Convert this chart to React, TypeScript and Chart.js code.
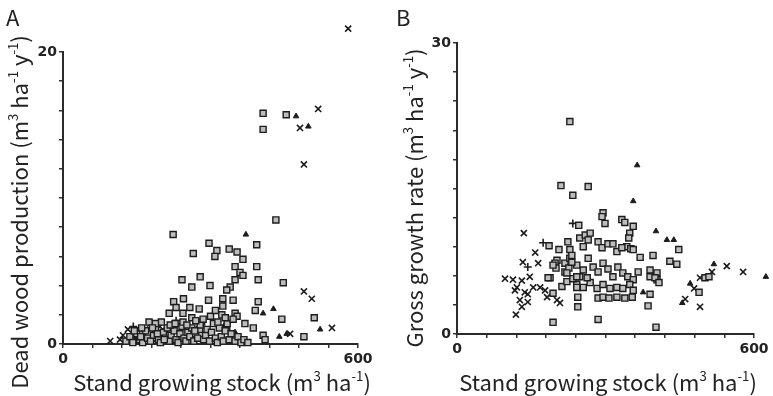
import React, { useEffect, useRef } from 'react';
import { Chart, registerables } from 'chart.js';

Chart.register(...registerables);

type P = [number, number];

// ---------- Panel A : Dead wood production ----------
const aSquares: P[] = [
  [407, 15.8], [407, 14.7], [454, 15.7],
  [433, 8.5], [224, 7.5], [394, 6.8], [297, 6.9], [265, 6.2], [313, 6.4], [338, 6.5], [354, 6.3],
  [309, 6.0], [366, 5.8], [350, 5.3], [394, 5.3], [360, 4.9], [366, 4.7], [350, 4.4], [242, 4.4],
  [279, 4.6], [397, 4.4], [448, 4.2], [262, 3.9], [299, 4.0], [340, 3.9], [333, 3.7],
  [225, 2.9], [245, 3.1], [230, 2.5], [216, 2.1], [244, 2.1], [258, 2.5], [277, 2.4], [296, 3.0],
  [325, 3.1], [346, 3.0], [325, 2.6], [350, 2.1], [354, 1.9], [397, 2.9], [391, 2.3], [445, 1.7],
  [511, 1.8], [490, 0.5], [387, 1.1], [370, 1.4], [407, 0.6], [411, 0.3], [333, 1.2],
  [128, 0.2], [136, 0.5], [142, 0.1], [150, 0.7], [156, 0.3], [162, 0.1], [168, 0.9], [172, 0.4],
  [178, 0.2], [184, 0.6], [188, 1.0], [194, 0.3], [198, 0.1], [204, 0.8], [208, 0.4], [212, 1.1],
  [216, 0.2], [220, 0.6], [226, 0.9], [230, 0.3], [234, 0.1], [238, 0.7], [242, 1.2], [246, 0.4],
  [250, 0.2], [254, 0.8], [258, 0.5], [262, 1.1], [266, 0.2], [270, 0.7], [274, 0.4], [278, 1.0],
  [282, 1.5], [286, 0.3], [290, 0.6], [293, 1.0], [298, 0.2], [302, 0.8], [306, 1.4], [310, 0.4],
  [314, 0.1], [318, 1.1], [322, 0.5], [326, 0.2], [330, 0.9], [334, 1.4], [338, 0.3], [342, 0.7],
  [346, 1.7], [350, 0.2], [356, 0.5], [362, 0.1], [368, 0.3], [376, 0.1], [279, 1.3], [285, 1.7],
  [262, 1.8], [300, 1.9], [270, 1.6], [310, 2.3], [323, 2.0], [315, 1.5], [330, 1.8], [244, 1.5],
  [200, 1.5], [218, 1.3], [188, 1.4], [160, 1.1], [175, 1.5],
  [145, 0.9], [158, 0.5], [182, 1.1], [192, 0.7], [206, 0.3], [228, 1.4], [252, 1.3], [268, 0.9],
];
const aCrosses: P[] = [
  [580, 21.6], [519, 16.1], [482, 14.8], [490, 12.3], [490, 3.6], [506, 3.1], [547, 1.1], [462, 0.7],
  [177, 1.4], [132, 1.0], [122, 0.6], [96, 0.2], [197, 1.2], [163, 0.8], [146, 0.4], [210, 0.9], [116, 0.3],
];
const aTriangles: P[] = [
  [474, 15.6], [499, 14.9], [372, 7.5], [407, 2.1], [428, 2.4], [523, 1.0], [440, 0.5], [455, 0.7], [350, 0.8],
];
const aPluses: P[] = [[143, 1.2], [180, 0.2], [230, 1.6]];

// ---------- Panel B : Gross growth rate ----------
const bSquares: P[] = [
  [228, 21.9], [210, 15.3], [265, 15.2], [234, 14.3],
  [246, 11.2], [295, 12.5], [293, 12.1], [299, 11.4], [333, 11.8], [339, 11.5], [356, 11.1], [349, 10.4],
  [347, 9.9], [343, 9.0], [351, 8.8],
  [186, 9.1], [206, 8.7], [224, 9.5], [228, 8.7], [248, 9.9], [259, 10.2], [269, 10.4], [265, 9.7], [255, 9.0],
  [285, 9.5], [293, 8.9], [305, 9.3], [315, 9.3], [323, 8.5], [333, 8.9], [356, 8.7], [370, 7.9], [396, 8.1],
  [202, 7.6], [218, 7.3], [228, 7.8], [242, 7.1], [255, 6.6], [265, 7.8], [275, 6.9], [285, 6.4], [295, 7.3],
  [305, 6.7], [315, 5.9], [325, 6.9], [335, 6.3], [345, 5.9], [356, 5.6], [366, 6.4], [390, 5.9], [404, 5.6],
  [242, 5.1], [255, 4.8], [269, 5.3], [283, 4.7], [295, 5.1], [309, 4.7], [323, 4.8], [335, 4.7], [349, 5.1], [356, 4.5],
  [285, 3.7], [295, 3.8], [307, 3.7], [323, 3.8], [339, 3.7], [354, 3.8], [244, 2.8], [386, 2.9], [285, 1.5],
  [194, 1.2], [402, 0.7], [390, 4.1], [390, 6.6], [404, 6.3], [400, 5.8], [408, 5.3],
  [198, 7.3], [200, 6.8], [218, 6.4], [226, 6.8], [232, 7.4], [232, 8.1],
  [212, 4.9], [222, 5.4], [234, 5.7], [248, 5.9], [242, 4.8], [244, 3.8], [188, 5.8], [194, 4.2], [222, 6.3],
  [194, 7.1], [184, 5.8], [263, 5.8], [242, 5.9],
  [448, 8.7], [430, 7.5], [444, 7.2], [501, 5.8], [509, 5.9], [489, 4.3],
];
const bCrosses: P[] = [
  [545, 7.0], [578, 6.4], [515, 6.4], [491, 5.8], [479, 4.7], [461, 3.6], [491, 2.8],
  [135, 10.4], [158, 8.4], [133, 7.4], [164, 7.3], [97, 5.7], [113, 5.6], [131, 5.5], [147, 5.9], [117, 4.5],
  [137, 4.3], [143, 4.1], [127, 3.5], [143, 3.3], [131, 2.8], [119, 2.0], [121, 4.8], [154, 4.8], [168, 4.8],
  [178, 4.5], [182, 3.8], [202, 3.5], [208, 3.2],
];
const bTriangles: P[] = [
  [364, 17.4], [356, 13.7], [402, 10.6], [424, 9.7], [438, 9.7], [519, 7.2], [471, 5.2], [455, 3.2], [376, 4.3], [624, 5.9],
];
const bPluses: P[] = [[234, 11.4], [174, 9.4], [143, 6.9]];

// ---------- Axis settings ----------
const xMax = 600;
const xStep = 60;
const xLabeled = [0, 600];
const aYMax = 20;
const aYStep = 2;
const aYLabeled = [0, 20];
const bYMax = 30;
const bYStep = 3;
const bYLabeled = [0, 30];

const INK = '#222';
const FONT = '"Noto Sans CJK JP", "Noto Sans", sans-serif';

function toXY(arr: P[]) {
  return arr.map(([x, y]) => ({ x, y }));
}

function makeDatasets(sq: P[], cr: P[], tr: P[], pl: P[]) {
  return [
    { data: toXY(sq), pointStyle: 'rect', pointRadius: 4.3, backgroundColor: '#bdbdbd', borderColor: '#1c1c1c', borderWidth: 1.4, clip: false },
    { data: toXY(cr), pointStyle: 'crossRot', pointRadius: 4.3, backgroundColor: INK, borderColor: '#1c1c1c', borderWidth: 1.6, clip: false },
    { data: toXY(tr), pointStyle: 'triangle', pointRadius: 3.2, backgroundColor: '#1c1c1c', borderColor: '#1c1c1c', borderWidth: 1, clip: false },
    { data: toXY(pl), pointStyle: 'cross', pointRadius: 4, backgroundColor: INK, borderColor: '#1c1c1c', borderWidth: 1.6, clip: false },
  ];
}

// draws the few points that lie beyond the axis ends (as in the original figure)
const outsidePoints = {
  id: 'outsidePoints',
  afterDatasetsDraw(chart: any) {
    const area = chart.chartArea;
    const ctx = chart.ctx;
    chart.data.datasets.forEach((_ds: any, i: number) => {
      const meta = chart.getDatasetMeta(i);
      meta.data.forEach((el: any) => {
        if (el.x < area.left || el.x > area.right || el.y < area.top || el.y > area.bottom) {
          el.draw(ctx);
        }
      });
    });
  },
};

type PanelProps = {
  left: number;
  width: number;
  yMax: number;
  yStep: number;
  yLabeled: number[];
  yWidth: number;
  xHeight: number;
  padTop: number;
  padRight: number;
  datasets: any[];
};

function Panel(props: PanelProps) {
  const ref = useRef<HTMLCanvasElement | null>(null);
  useEffect(() => {
    if (!ref.current) return;
    const tickFont = { family: '"DejaVu Sans", sans-serif', weight: 'bold' as const, size: 14 };
    const chart = new Chart(ref.current, {
      type: 'scatter',
      data: { datasets: props.datasets },
      plugins: [outsidePoints],
      options: {
        animation: false,
        responsive: false,
        events: [],
        layout: { padding: { left: 0, right: props.padRight, top: props.padTop, bottom: 0 } },
        plugins: { legend: { display: false }, tooltip: { enabled: false }, title: { display: false } },
        scales: {
          x: {
            type: 'linear',
            min: 0,
            max: xMax,
            ticks: {
              stepSize: xStep,
              autoSkip: false,
              maxRotation: 0,
              padding: 3,
              color: INK,
              font: tickFont,
              callback: (v: any) => (xLabeled.includes(Number(v)) ? String(v) : ''),
            },
            grid: { drawOnChartArea: false, tickLength: 4, color: '#333', lineWidth: 1.5 },
            border: { color: '#2a2a2a', width: 2 },
            afterFit: (s: any) => { s.height = props.xHeight; },
          },
          y: {
            type: 'linear',
            min: 0,
            max: props.yMax,
            ticks: {
              stepSize: props.yStep,
              autoSkip: false,
              padding: 2,
              color: INK,
              font: tickFont,
              callback: (v: any) => (props.yLabeled.includes(Number(v)) ? String(v) : ''),
            },
            grid: { drawOnChartArea: false, tickLength: 4, color: '#333', lineWidth: 1.5 },
            border: { color: '#2a2a2a', width: 2 },
            afterFit: (s: any) => { s.width = props.yWidth; },
          },
        },
      } as any,
    });
    return () => chart.destroy();
  }, []);
  return (
    <canvas
      ref={ref}
      width={props.width}
      height={396}
      style={{ position: 'absolute', left: props.left, top: 0, width: props.width, height: 396 }}
    />
  );
}

const supStyle: React.CSSProperties = { fontSize: '0.6em', lineHeight: 0, verticalAlign: '0.75em' };

function Unit(props: { perYear: boolean }) {
  return (
    <>
      (m<span style={supStyle}>3</span> ha<span style={supStyle}>-1</span>
      {props.perYear ? (
        <>
          {' '}y<span style={supStyle}>-1</span>
        </>
      ) : null}
      )
    </>
  );
}

const textBase: React.CSSProperties = {
  position: 'absolute',
  whiteSpace: 'nowrap',
  lineHeight: 1,
  fontSize: 22,
  color: INK,
};

export default function App() {
  return (
    <div
      style={{
        position: 'fixed',
        left: 0,
        top: 0,
        width: 773,
        height: 396,
        background: '#fff',
        fontFamily: FONT,
        overflow: 'hidden',
      }}
    >
      <Panel
        left={0}
        width={390}
        yMax={aYMax}
        yStep={aYStep}
        yLabeled={aYLabeled}
        yWidth={63}
        xHeight={52}
        padTop={52}
        padRight={32}
        datasets={makeDatasets(aSquares, aCrosses, aTriangles, aPluses)}
      />
      <Panel
        left={390}
        width={383}
        yMax={bYMax}
        yStep={bYStep}
        yLabeled={bYLabeled}
        yWidth={67}
        xHeight={62}
        padTop={43}
        padRight={19}
        datasets={makeDatasets(bSquares, bCrosses, bTriangles, bPluses)}
      />
      <div style={{ ...textBase, left: 6, top: 5 }}>A</div>
      <div style={{ ...textBase, left: 396, top: 5 }}>B</div>
      <div style={{ ...textBase, left: 222, top: 381, transform: 'translate(-50%, -50%)' }}>
        Stand growing stock <Unit perYear={false} />
      </div>
      <div style={{ ...textBase, left: 608, top: 381, transform: 'translate(-50%, -50%)' }}>
        Stand growing stock <Unit perYear={false} />
      </div>
      <div style={{ ...textBase, left: 18, top: 212, transform: 'translate(-50%, -50%) rotate(-90deg)' }}>
        Dead wood production <Unit perYear={true} />
      </div>
      <div style={{ ...textBase, left: 413, top: 198, transform: 'translate(-50%, -50%) rotate(-90deg)' }}>
        Gross growth rate <Unit perYear={true} />
      </div>
    </div>
  );
}
